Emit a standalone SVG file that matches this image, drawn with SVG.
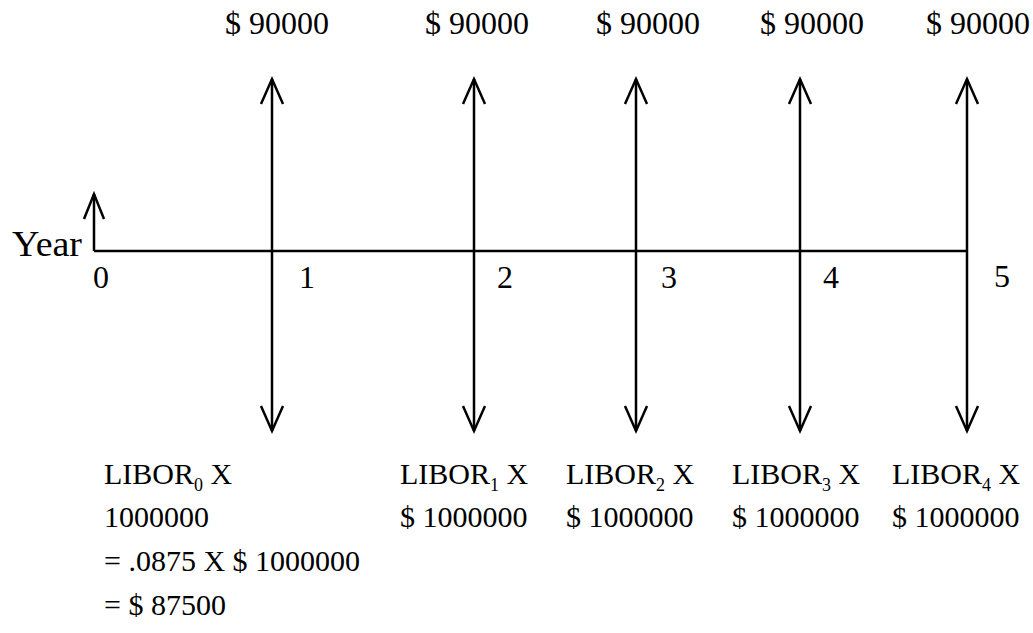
<svg xmlns="http://www.w3.org/2000/svg" width="1033" height="633" viewBox="0 0 1033 633">
<style>
text{font-family:"Liberation Serif","Times New Roman",serif;font-size:30px;fill:#000}
.big{font-size:32px}
.yr{font-size:35px}
.sub{font-size:18px}
.ln{stroke:#000;stroke-width:2.5;fill:none}
.hd{stroke:#000;stroke-width:2.5;fill:none;stroke-linejoin:miter;stroke-miterlimit:10}
</style>
<rect width="1033" height="633" fill="#fff"/>
<g id="connectors">
  <path class="ln" d="M94 251 H967"/>
  <path class="ln" d="M94 251 V194"/>
  <path class="hd" d="M84 219 L94 194 L104 219"/>
  <g id="flow1"><path class="ln" d="M272 79 V431"/><path class="hd" d="M261 104 L272 79 L283 104"/><path class="hd" d="M261 406 L272 431 L283 406"/></g>
  <g id="flow2"><path class="ln" d="M474 79 V431"/><path class="hd" d="M463 104 L474 79 L485 104"/><path class="hd" d="M463 406 L474 431 L485 406"/></g>
  <g id="flow3"><path class="ln" d="M636 79 V431"/><path class="hd" d="M625 104 L636 79 L647 104"/><path class="hd" d="M625 406 L636 431 L647 406"/></g>
  <g id="flow4"><path class="ln" d="M800 79 V431"/><path class="hd" d="M789 104 L800 79 L811 104"/><path class="hd" d="M789 406 L800 431 L811 406"/></g>
  <g id="flow5"><path class="ln" d="M967 79 V431"/><path class="hd" d="M956 104 L967 79 L978 104"/><path class="hd" d="M956 406 L967 431 L978 406"/></g>
</g>
<g id="axis-labels">
  <text class="yr" x="12" y="256" textLength="70" lengthAdjust="spacingAndGlyphs">Year</text>
  <text class="big" x="93" y="288">0</text>
  <text class="big" x="299" y="288">1</text>
  <text class="big" x="497" y="288">2</text>
  <text class="big" x="661" y="288">3</text>
  <text class="big" x="823" y="288">4</text>
  <text class="big" x="994" y="287">5</text>
</g>
<g id="receipts">
  <text class="big" x="225" y="34">$ 90000</text>
  <text class="big" x="425" y="34">$ 90000</text>
  <text class="big" x="596" y="34">$ 90000</text>
  <text class="big" x="760" y="34">$ 90000</text>
  <text class="big" x="926" y="34">$ 90000</text>
</g>
<g id="pay0">
  <text x="104" y="484">LIBOR<tspan class="sub" dy="7">0</tspan><tspan dy="-7"> X</tspan></text>
  <text x="104" y="527">1000000</text>
  <text x="104" y="571">= .0875 X $ 1000000</text>
  <text x="104" y="615">= $ 87500</text>
</g>
<g id="pay1">
  <text x="400" y="484">LIBOR<tspan class="sub" dy="7">1</tspan><tspan dy="-7"> X</tspan></text>
  <text x="400" y="527">$ 1000000</text>
</g>
<g id="pay2">
  <text x="566" y="484">LIBOR<tspan class="sub" dy="7">2</tspan><tspan dy="-7"> X</tspan></text>
  <text x="566" y="527">$ 1000000</text>
</g>
<g id="pay3">
  <text x="732" y="484">LIBOR<tspan class="sub" dy="7">3</tspan><tspan dy="-7"> X</tspan></text>
  <text x="732" y="527">$ 1000000</text>
</g>
<g id="pay4">
  <text x="892" y="484">LIBOR<tspan class="sub" dy="7">4</tspan><tspan dy="-7"> X</tspan></text>
  <text x="892" y="527">$ 1000000</text>
</g>
</svg>
